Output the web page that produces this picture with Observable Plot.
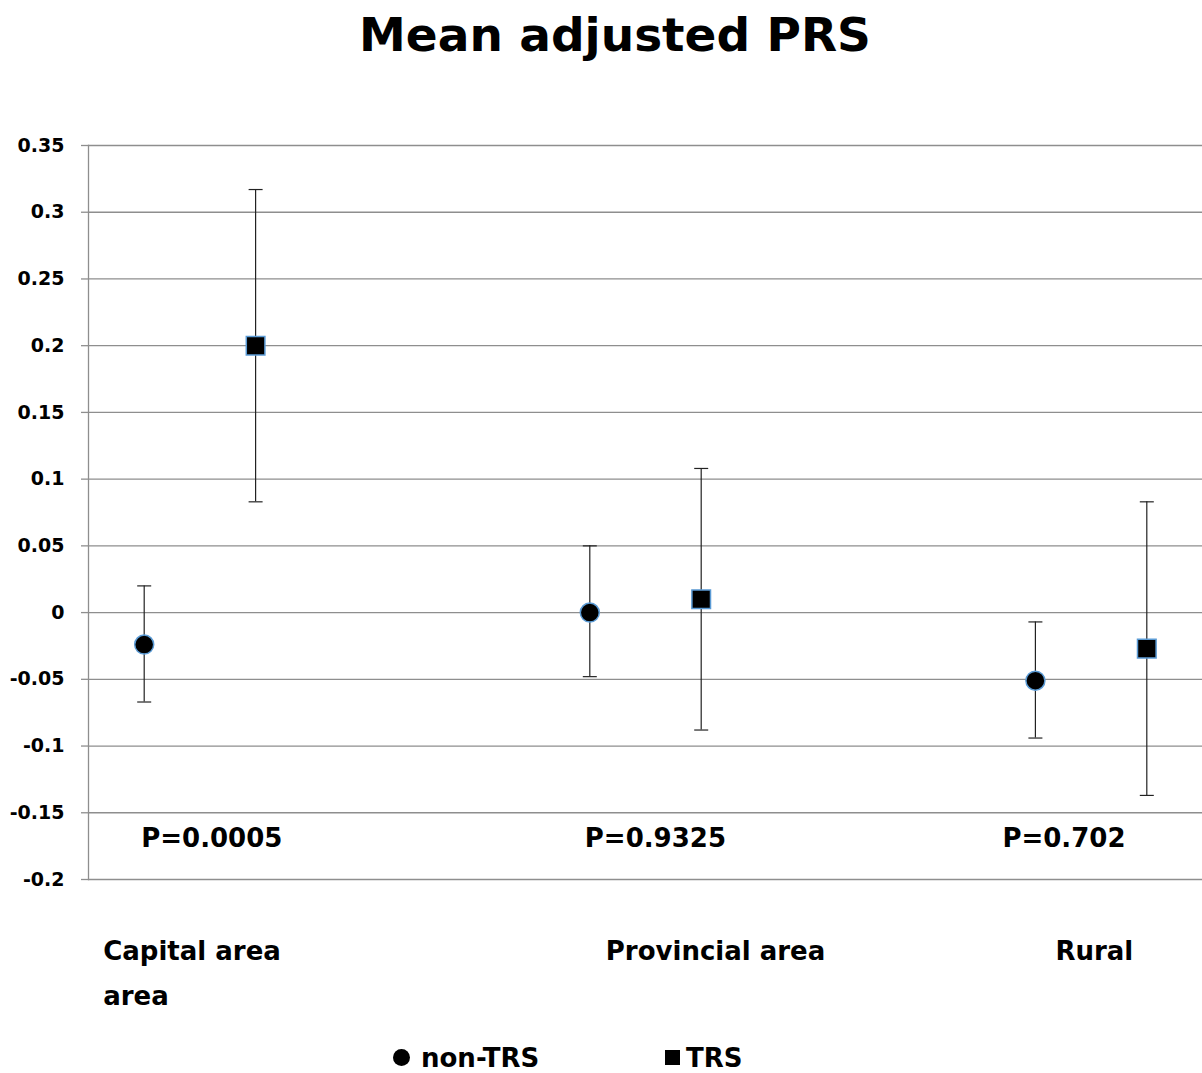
<!DOCTYPE html>
<html>
<head>
<meta charset="utf-8">
<script src="https://cdn.jsdelivr.net/npm/d3@7"></script>
<script src="https://cdn.jsdelivr.net/npm/@observablehq/plot@0.6"></script>
<style>
  html, body { margin: 0; padding: 0; background: #fff; }
  body { width: 1202px; font-family: "DejaVu Sans", sans-serif; font-weight: bold; color: #000; }
  #title { height: 90px; line-height: 70px; font-size: 47px; text-align: center; padding-left: 28px; box-sizing: border-box; }
  #chart svg { display: block; }
  #legend { position: relative; height: 43px; font-size: 26px; }
  .item { position: absolute; top: 0; height: 43px; line-height: 30px; display: flex; align-items: center; }
  .item span.sw { display: inline-block; background: #000; margin-right: 11px; }
</style>
</head>
<body>
<div id="title">Mean adjusted PRS</div>
<div id="chart"></div>
<div id="legend">
  <div class="item" style="left:393px; top:6px;"><span class="sw" style="width:17px;height:17px;border-radius:50%;"></span>non-TRS</div>
  <div class="item" style="left:665px; top:6px;"><span class="sw" style="width:15px;height:15px;margin-right:6px;"></span>TRS</div>
</div>
<script>
const groups = ["Capital area\narea", "Provincial area", "Rural"];
const pValues = ["P=0.0005", "P=0.9325", "P=0.702"];
const series = ["non-TRS", "TRS"];
const nonTrsMean = [-0.024, 0.000, -0.051];
const nonTrsLow  = [-0.067, -0.048, -0.094];
const nonTrsHigh = [0.020, 0.050, -0.007];
const trsMean = [0.200, 0.010, -0.027];
const trsLow  = [0.083, -0.088, -0.137];
const trsHigh = [0.317, 0.108, 0.083];
const yTicks = [-0.2, -0.15, -0.1, -0.05, 0, 0.05, 0.1, 0.15, 0.2, 0.25, 0.3, 0.35];

// slot positions of an Excel-like category axis (10 slots)
const slot = (g, s) => g * 4 + s;
const rows = [];
groups.forEach((g, i) => {
  rows.push({group: i, series: "non-TRS", x: slot(i, 0), mean: nonTrsMean[i], lo: nonTrsLow[i], hi: nonTrsHigh[i]});
  rows.push({group: i, series: "TRS", x: slot(i, 1), mean: trsMean[i], lo: trsLow[i], hi: trsHigh[i]});
});
const caps = rows.flatMap(d => [{x: d.x, y: d.lo}, {x: d.x, y: d.hi}]);
const labelRows = groups.map((g, i) => ({x: slot(i, 0), label: g, p: pValues[i]}));
const labelDx = [-41, 16, 20];
const pDx = [-3, -5, -33];

const capSymbol = {
  draw(ctx, size) {
    const r = Math.sqrt(size / Math.PI);
    ctx.moveTo(-r, 0);
    ctx.lineTo(r, 0);
  }
};

const font = "DejaVu Sans, sans-serif";
const gridColor = "#8e8e8e";

const chart = Plot.plot({
  width: 1202,
  height: 940,
  marginTop: 55,
  marginBottom: 151,
  marginLeft: 88,
  marginRight: 0,
  style: {fontFamily: font, background: "#fff", overflow: "visible"},
  x: {domain: [-0.5, 9.5], axis: null},
  y: {domain: [-0.2, 0.35], axis: null},
  marks: [
    Plot.gridY(yTicks, {stroke: gridColor, strokeOpacity: 1, strokeWidth: 1.3}),
    Plot.axisY({
      ticks: yTicks, tickSize: 7, tickPadding: 17,
      stroke: gridColor, strokeWidth: 1.3, fill: "#000",
      fontSize: 19, fontWeight: "bold",
      tickFormat: d => String(+d.toFixed(2))
    }),
    Plot.frame({anchor: "left", stroke: gridColor, strokeWidth: 1.3}),
    Plot.ruleX(rows, {x: "x", y1: "lo", y2: "hi", stroke: "#222", strokeWidth: 1.2}),
    Plot.dot(caps, {x: "x", y: "y", symbol: capSymbol, r: 7, stroke: "#222", strokeWidth: 1.2, fill: "none"}),
    Plot.dot(rows.filter(d => d.series === "non-TRS"), {x: "x", y: "mean", symbol: "circle", r: 9.5, fill: "#000", stroke: "#5b9bd5", strokeWidth: 1.5}),
    Plot.dot(rows.filter(d => d.series === "TRS"), {x: "x", y: "mean", symbol: "square", r: 10.5, fill: "#000", stroke: "#5b9bd5", strokeWidth: 1.5}),
    Plot.text(labelRows, {
      x: "x", text: "p", frameAnchor: "bottom", lineAnchor: "top", dy: -51,
      textAnchor: "start", fontSize: 26, fontWeight: "bold", fill: "#000"
    }),
    Plot.text(labelRows, {
      x: "x", text: "label", frameAnchor: "bottom", lineAnchor: "top", dy: 49,
      textAnchor: "start", fontSize: 26, fontWeight: "bold", lineHeight: 1.73, fill: "#000"
    })
  ]
});

// apply per-label horizontal offsets (styling only)
const textGroups = chart.querySelectorAll("g[aria-label='text']");
textGroups[0].querySelectorAll("text").forEach((t, i) => t.setAttribute("dx", pDx[i]));
textGroups[1].querySelectorAll("text").forEach((t, i) => {
  t.setAttribute("dx", labelDx[i]);
  t.querySelectorAll("tspan").forEach(s => { if (s.getAttribute("x") !== null) s.setAttribute("dx", labelDx[i]); });
});

document.getElementById("chart").appendChild(chart);
</script>
</body>
</html>
